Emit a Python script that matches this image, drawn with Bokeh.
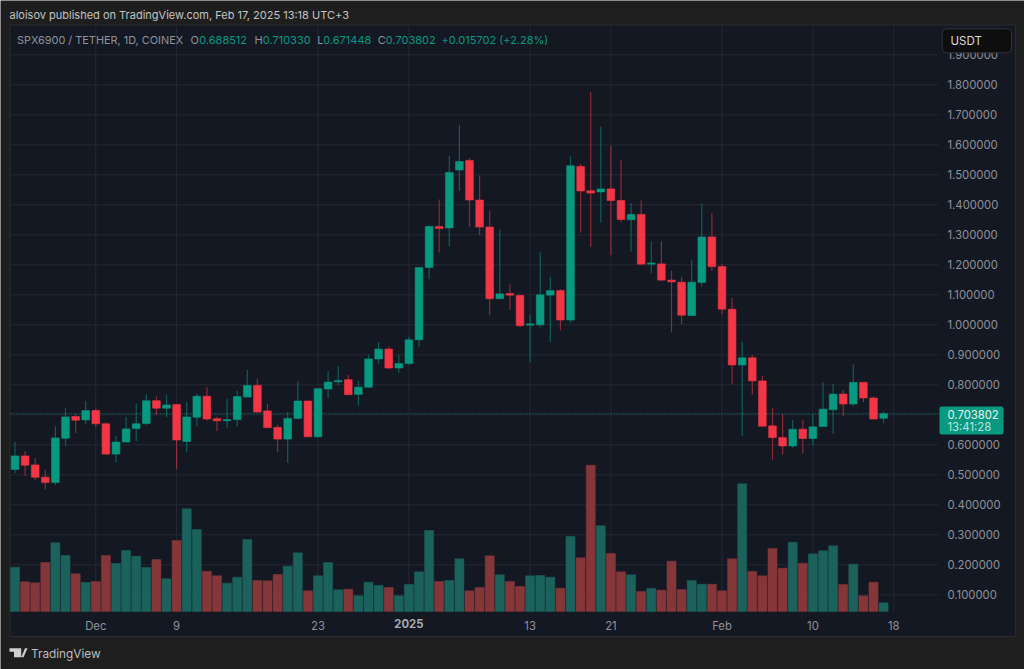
from bokeh.plotting import figure
from bokeh.embed import file_html
from bokeh.resources import INLINE
from bokeh.models import (Range1d, FixedTicker, NumeralTickFormatter, BoxAnnotation, Label,
                          ColumnDataSource, PolyAnnotation, LinearAxis)

days = list(range(-8, 79))
opens = [.518,.563,.533,.492,.474,.622,.694,.683,.714,.670,.569,.609,.654,.671,.747,.722,.734,.611,.692,.762,.687,.680,.684,.759,.798,.713,.658,.619,.688,.746,.627,.786,.810,.817,.768,.792,.886,.919,.856,.871,.950,1.191,1.328,1.323,1.516,1.548,1.416,1.326,1.087,1.104,1.098,.999,1.000,1.099,1.114,1.016,1.528,1.447,1.443,1.453,1.414,1.350,1.368,1.202,1.203,1.149,1.142,1.031,1.141,1.293,1.194,1.052,.866,.890,.813,.663,.624,.596,.652,.621,.661,.717,.769,.736,.808,.756,.688512]
highs = [.609,.579,.557,.517,.662,.723,.703,.746,.721,.674,.630,.693,.737,.768,.761,.767,.734,.742,.770,.792,.692,.753,.779,.849,.821,.737,.668,.709,.813,.746,.787,.846,.862,.833,.813,.900,.943,.927,.900,.960,1.191,1.331,1.418,1.564,1.666,1.556,1.498,1.380,1.318,1.134,1.101,1.034,1.241,1.160,1.119,1.561,1.537,1.775,1.661,1.598,1.551,1.406,1.414,1.278,1.278,1.180,1.160,1.218,1.404,1.373,1.204,1.090,.943,.899,.829,.723,.702,.683,.683,.703,.809,.803,.783,.868,.808,.761,.710330]
lows = [.506,.496,.481,.452,.466,.596,.639,.668,.659,.566,.541,.609,.613,.666,.700,.692,.520,.576,.661,.680,.646,.657,.660,.759,.709,.657,.576,.540,.684,.625,.623,.756,.799,.767,.731,.791,.870,.852,.840,.866,.926,1.152,1.241,1.262,1.446,1.326,1.299,1.033,1.087,1.049,.992,.876,.992,.942,.981,1.006,1.308,1.259,1.341,1.232,1.342,1.244,1.202,1.171,1.146,.974,1.002,1.031,1.128,1.179,1.036,.801,.629,.768,.662,.551,.568,.590,.572,.598,.661,.637,.696,.729,.742,.686,.671448]
closes = [.563,.532,.492,.474,.623,.693,.682,.714,.670,.569,.609,.653,.670,.747,.722,.733,.616,.693,.762,.686,.680,.684,.761,.798,.709,.657,.619,.688,.746,.627,.787,.809,.814,.767,.792,.886,.919,.856,.871,.950,1.191,1.328,1.321,1.508,1.544,1.416,1.326,1.087,1.103,1.099,.997,1.003,1.100,1.114,1.016,1.530,1.446,1.439,1.453,1.414,1.351,1.368,1.202,1.206,1.149,1.143,1.032,1.142,1.293,1.194,1.052,.866,.890,.813,.662,.624,.596,.652,.621,.660,.719,.769,.736,.808,.756,.686,.703802]
volumes = [44.3,29.7,28.7,49,68.7,56,37.7,29,30,56,48,61,55.3,44,52,32.7,71,102.7,82,40.3,35.7,28.3,34.3,72,31,30.7,37,45.3,58.7,20.7,35.7,49,21.7,22.3,15.7,29.3,26,24,15.7,27,39.7,81,30,31,52.7,20.7,24,55.7,36.7,30,25,35.7,36,34.3,23.3,75,53.7,146.3,85.7,58,39.7,36.7,20,23,21.3,50.3,22,31,27.3,27.3,20.7,52.7,127.7,40,35.7,63,43.3,69.3,48.3,57.7,60.7,65.7,27,47.3,15.7,29.3,8.7]
price_ticks = [round(0.1 * i, 1) for i in range(1, 20)]
time_ticks = [0, 8, 22, 31, 43, 51, 62, 71, 79]
time_labels = ["Dec", "9", "23", "2025", "13", "21", "Feb", "10", "18"]
last_price = 0.703802

# The chart area of the picture, in axis units
X_LEFT, X_RIGHT = -8.446, 83.436
Y_BOTTOM, Y_TOP = 0.0410, 1.9977

UP, DOWN = "#089981", "#F23645"
VOL_UP, VOL_DOWN = "#1b615c", "#843639"
PANE, OUTER, GRID, TXT = "#141822", "#1e1e1e", "#242833", "#8f929c"
FONT = "Inter"

colors = [UP if c >= o else DOWN for o, c in zip(opens, closes)]
vol_colors = [VOL_UP if c >= o else VOL_DOWN for o, c in zip(opens, closes)]
src = ColumnDataSource(dict(x=days, o=opens, h=highs, l=lows, c=closes, v=volumes, color=colors,
                            vcolor=vol_colors,
                            top=[max(a, b) for a, b in zip(opens, closes)],
                            bot=[min(a, b) for a, b in zip(opens, closes)]))

p = figure(width=1024, height=669, output_backend="svg", toolbar_location=None,
           x_range=Range1d(-9.436, 91.95), y_range=Range1d(-0.149, 2.081),
           x_axis_type=None, y_axis_type=None,
           min_border_left=0, min_border_right=0, min_border_top=0, min_border_bottom=0,
           border_fill_color=OUTER, background_fill_color=OUTER, outline_line_color=None)
p.extra_y_ranges = {"vol": Range1d(-58, 611)}
p.grid.visible = False


def canvas_box(x0, y0, x1, y1, **kw):
    b = BoxAnnotation(left=x0, right=x1, top=y0, bottom=y1,
                      left_units="canvas", right_units="canvas", top_units="canvas",
                      bottom_units="canvas", **kw)
    p.add_layout(b)
    return b


def canvas_text(x, y, text, color, size=11, align="left", style="normal"):
    p.add_layout(Label(x=x, y=y, x_units="canvas", y_units="canvas", text=text,
                       text_color=color, text_font=FONT, text_font_size=f"{size}px",
                       text_align=align, text_baseline="middle", text_font_style=style))


def style_axis(ax, standoff):
    ax.major_label_text_color = TXT
    ax.major_label_text_font = FONT
    ax.major_label_text_font_size = "11.3px"
    ax.major_label_standoff = standoff
    ax.major_tick_out = 0
    ax.major_tick_in = 0
    ax.axis_line_color = None
    ax.major_tick_line_color = None
    ax.minor_tick_line_color = None


canvas_box(9.5, 24.5, 1015, 636, fill_color=PANE, fill_alpha=1, line_color="#2a2b2e",
           line_alpha=1, line_width=1, level="underlay")

# Grid lines stop at the edge of the chart area
p.segment(x0=time_ticks, x1=time_ticks, y0=Y_BOTTOM, y1=Y_TOP, line_color=GRID, line_width=1)
p.segment(x0=X_LEFT, x1=X_RIGHT, y0=price_ticks, y1=price_ticks, line_color=GRID, line_width=1)

ya = LinearAxis(fixed_location=X_RIGHT, ticker=FixedTicker(ticks=price_ticks),
                formatter=NumeralTickFormatter(format="0.000000"))
style_axis(ya, 9)
p.add_layout(ya, "right")

plain = [t for t, s in zip(time_ticks, time_labels) if s != "2025"]
xa = LinearAxis(fixed_location=Y_BOTTOM, ticker=FixedTicker(ticks=plain),
                major_label_overrides=dict(zip(time_ticks, time_labels)))
style_axis(xa, 6)
p.add_layout(xa, "below")

year = [t for t, s in zip(time_ticks, time_labels) if s == "2025"]
xb = LinearAxis(fixed_location=Y_BOTTOM, ticker=FixedTicker(ticks=year),
                major_label_overrides=dict(zip(time_ticks, time_labels)))
style_axis(xb, 6)
xb.major_label_text_font_style = "bold"
xb.major_label_text_color = "#a8aab2"
p.add_layout(xb, "below")

p.vbar(x="x", width=0.9, bottom=0, top="v", y_range_name="vol", source=src,
       fill_color="vcolor", line_color="vcolor", line_alpha=0.5, line_width=1)
p.segment(x0=[X_LEFT], x1=[X_RIGHT], y0=[last_price], y1=[last_price], line_color=UP,
          line_alpha=0.9, line_width=1, line_dash="1 2")
p.segment(x0="x", x1="x", y0="l", y1="h", source=src, line_color="color", line_alpha=0.55,
          line_width=1.2)
p.vbar(x="x", width=0.76, bottom="bot", top="top", source=src, fill_color="color",
       line_color="color", line_width=0.6)

# Header
canvas_text(9, 14.5, "aloisov published on TradingView.com, Feb 17, 2025 13:18 UTC+3", "#c4c4c4", 11)
canvas_text(16.5, 39, "SPX6900 / TETHER, 1D, COINEX", TXT, 10.9)
for x, t in [(190, "O"), (254, "H"), (316.7, "L"), (377.3, "C")]:
    canvas_text(x, 39, t, TXT, 11)
for x, t in [(198.7, "0.688512"), (262.3, "0.710330"), (322.7, "0.671448"),
             (385.3, "0.703802"), (441, "+0.015702 (+2.28%)")]:
    canvas_text(x, 39, t, UP, 11)

# Currency chip
canvas_box(941.7, 28.3, 1011, 52.3, fill_color="#0e0e0e", fill_alpha=1, line_color="#33353a",
           line_alpha=1, line_width=1, border_radius=4)
canvas_text(950, 40, "USDT", "#dcdcdc", 11.5)

# Last price tag
canvas_box(939, 406, 1003, 434, fill_color=UP, fill_alpha=1, line_color=None, border_radius=2)
canvas_text(947, 413.5, "0.703802", "#f2f2f2", 11.3)
canvas_text(947, 426, "13:41:28", "#bfe6de", 11.3)

# Logo and footer
logo = [[(9, 647.7), (20.7, 647.7), (20.7, 656.7), (13.5, 656.7), (13.5, 651.3), (9, 651.3)],
        [(24.5, 647.7), (27, 647.7), (23, 656.7), (20.7, 656.7)]]
for poly in logo:
    p.add_layout(PolyAnnotation(xs=[a for a, _ in poly], ys=[b for _, b in poly],
                                xs_units="canvas", ys_units="canvas", fill_color="#d0d0d0",
                                fill_alpha=1, line_color=None))
canvas_text(30.5, 653, "TradingView", "#bdbdbd", 11.8)

open("out.html", "w").write(file_html(p, INLINE))
